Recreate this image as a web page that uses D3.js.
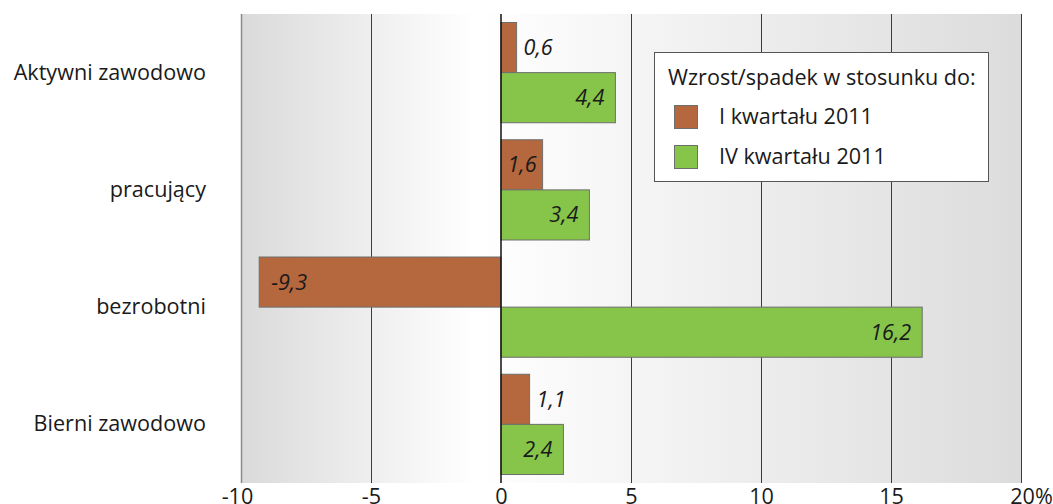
<!DOCTYPE html>
<html><head><meta charset="utf-8">
<script src="https://cdn.jsdelivr.net/npm/d3@7"></script>
<style>
html,body{margin:0;padding:0;background:#fff;}
svg{display:block;font-family:"Open Sans",sans-serif;}
</style></head>
<body>
<svg id="chart" width="1053" height="504"></svg>
<script>
const categories = ["Aktywni zawodowo","pracujący","bezrobotni","Bierni zawodowo"];
const seriesNames = ["I kwartału 2011","IV kwartału 2011"];
const seriesI = [0.6, 1.6, -9.3, 1.1];
const seriesIV = [4.4, 3.4, 16.2, 2.4];
const tickValues = [-10,-5,0,5,10,15,20];
const legendTitle = "Wzrost/spadek w stosunku do:";
const colors = ["#b5673d","#86c44a"];
const FS = 21.6;

const svg = d3.select("#chart");
const x = d3.scaleLinear().domain([-10,20]).range([241,1021]);
const y = d3.scaleBand().domain(categories).range([14,483]).paddingInner(0.145).paddingOuter(0.0725);
const sub = d3.scaleBand().domain([0,1]).range([0,y.bandwidth()]);

const defs = svg.append("defs");
const grad = defs.append("linearGradient").attr("id","bg").attr("x1","0%").attr("x2","100%").attr("y1","0%").attr("y2","0%");
grad.append("stop").attr("offset","0%").attr("stop-color","#dadada");
grad.append("stop").attr("offset","30%").attr("stop-color","#ffffff");
grad.append("stop").attr("offset","100%").attr("stop-color","#dcdcdc");

svg.append("rect").attr("x",x(-10)).attr("y",14).attr("width",x(20)-x(-10)).attr("height",469).attr("fill","url(#bg)");

// grid
svg.append("g").selectAll("line").data(tickValues.filter(d=>d!==0)).join("line")
  .attr("x1",d=>x(d)+0.5).attr("x2",d=>x(d)+0.5).attr("y1",14).attr("y2",483)
  .attr("stroke",d=>d===-10?"#8a8a8a":"#3c3c3c").attr("stroke-width",d=>d===-10?1.5:1);

const data = [];
categories.forEach((c,i)=>{
  data.push({cat:c,s:0,v:seriesI[i]});
  data.push({cat:c,s:1,v:seriesIV[i]});
});

svg.append("g").selectAll("rect").data(data).join("rect")
  .attr("x",d=>x(Math.min(0,d.v)))
  .attr("y",d=>y(d.cat)+sub(d.s))
  .attr("width",d=>Math.abs(x(d.v)-x(0)))
  .attr("height",sub.bandwidth())
  .attr("fill",d=>colors[d.s]).attr("stroke","#6e6e6e").attr("stroke-width",1);

// zero line
svg.append("line").attr("x1",x(0)).attr("x2",x(0)).attr("y1",14).attr("y2",483).attr("stroke","#111").attr("stroke-width",1.5);

const fmt = v => d3.format(".1f")(v).replace(".",",").replace("\u2212","-");
const labels = svg.append("g").selectAll("text").data(data).join("text")
  .attr("y",d=>y(d.cat)+sub(d.s)+sub.bandwidth()/2+7.5)
  .attr("font-size",FS).attr("font-style","italic").attr("fill","#1a1a1a")
  .text(d=>fmt(d.v));
labels.each(function(d){
  const w = this.getComputedTextLength();
  const len = Math.abs(x(d.v)-x(0));
  const t = d3.select(this);
  if (d.v < 0) { t.attr("x",x(d.v)+12).attr("text-anchor","start"); }
  else if (len > w + 8) { t.attr("x",x(d.v)-(len>w+16?11:6)).attr("text-anchor","end"); }
  else { t.attr("x",x(d.v)+7).attr("text-anchor","start"); }
});

// category labels
svg.append("g").selectAll("text").data(categories).join("text")
  .attr("x",206).attr("y",d=>y(d)+y.bandwidth()/2+7)
  .attr("text-anchor","end").attr("font-size",FS).attr("fill","#1a1a1a").text(d=>d);

// x axis
const xAxis = d3.axisBottom(x).tickValues(tickValues).tickSize(0).tickPadding(0)
  .tickFormat(d=>d===20?"20%":String(d));
const ax = svg.append("g").attr("transform","translate(0,488)").call(xAxis);
ax.select(".domain").remove();
ax.selectAll("text").attr("font-size",FS).attr("fill","#1a1a1a").attr("font-family","Open Sans").attr("dy","0.75em")
  .attr("dx",d=>d===20?10:(d===-10?-4:0));

// legend
const lg = svg.append("g");
lg.append("rect").attr("x",654.5).attr("y",52.5).attr("width",334).attr("height",129).attr("fill","#fff").attr("stroke","#555");
lg.append("text").attr("x",668).attr("y",85).attr("font-size",FS).attr("fill","#1a1a1a").text(legendTitle);
seriesNames.forEach((n,i)=>{
  const yy = 105 + i*40;
  lg.append("rect").attr("x",674.5).attr("y",yy+0.5).attr("width",23).attr("height",23).attr("fill",colors[i]).attr("stroke","#6e6e6e");
  lg.append("text").attr("x",719).attr("y",yy+19).attr("font-size",FS).attr("fill","#1a1a1a").text(n);
});
</script>
</body></html>
